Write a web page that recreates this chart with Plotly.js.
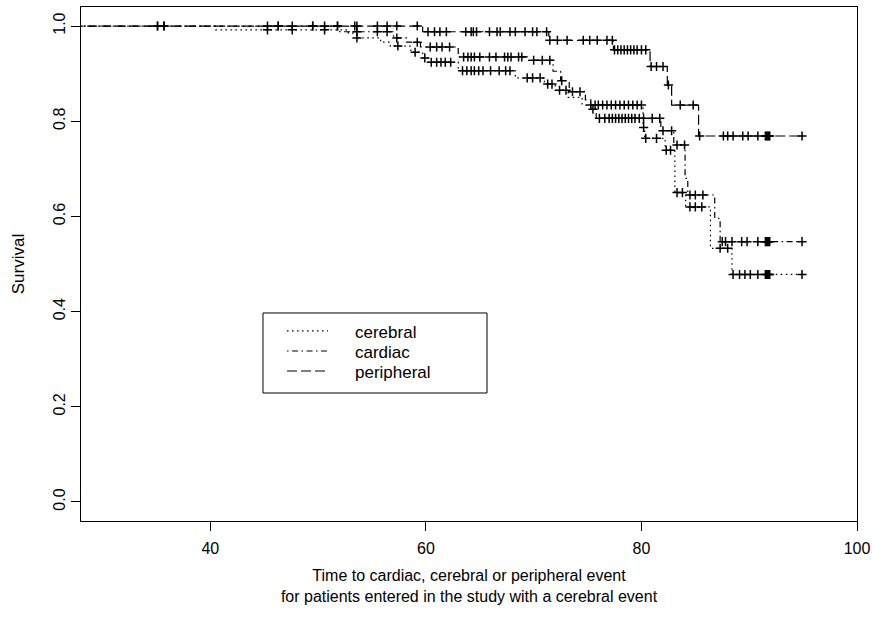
<!DOCTYPE html>
<html>
<head>
<meta charset="utf-8">
<script src="https://cdn.plot.ly/plotly-3.0.1.min.js"></script>
<style>html,body{margin:0;padding:0;background:#fff;}#chart{width:872px;height:621px;}</style>
</head>
<body>
<div id="chart"></div>
<script>
// ---- data (Kaplan-Meier step curves + censor times) ----
const groupNames = ["cerebral", "cardiac", "peripheral"];

const cerebralTime = [0, 40.5, 52.8, 53.6, 55.8, 56.7, 58.6, 59.7, 60.2, 63.0, 68.3, 71.0, 72.0, 73.2, 74.5, 80.15, 80.3, 82.2, 83.1, 84.1, 86.4, 88.4];
const cerebralSurv = [1.0, 0.992, 0.985, 0.975, 0.966, 0.958, 0.945, 0.933, 0.924, 0.906, 0.891, 0.878, 0.865, 0.85, 0.834, 0.787, 0.764, 0.739, 0.65, 0.62, 0.533, 0.478];
const cerebralCensor = [35.1, 45.3, 47.6, 50.6, 53.6, 57.4, 59.0, 59.9, 60.5, 61.0, 61.4, 61.8, 62.3, 63.4, 63.8, 64.2, 64.5, 64.9, 65.3, 66.0, 66.8, 67.4, 67.8, 69.4, 69.9, 70.6, 71.3, 71.7, 72.4, 73.0, 75.3, 75.7, 76.0, 76.4, 76.8, 77.2, 77.6, 78.0, 78.4, 78.8, 79.2, 79.6, 80.0, 80.2, 80.4, 81.4, 82.3, 82.7, 83.3, 83.8, 84.5, 85.0, 85.6, 87.3, 88.0, 88.5, 89.1, 89.6, 90.1, 90.8, 91.5, 91.6, 91.7, 91.8, 91.9, 94.9];

const cardiacTime = [0, 52.0, 57.0, 58.2, 59.5, 63.0, 69.4, 71.8, 72.5, 73.3, 74.8, 75.3, 75.8, 81.8, 83.0, 84.05, 84.3, 86.8, 87.3];
const cardiacSurv = [1.0, 0.988, 0.975, 0.966, 0.956, 0.935, 0.928, 0.905, 0.885, 0.862, 0.845, 0.825, 0.806, 0.78, 0.75, 0.68, 0.645, 0.596, 0.547];
const cardiacCensor = [35.7, 46.3, 49.5, 51.8, 53.6, 55.5, 56.4, 57.3, 59.2, 60.4, 61.0, 61.5, 62.2, 63.5, 63.9, 64.2, 64.5, 65.0, 65.9, 66.5, 67.3, 67.6, 67.9, 68.6, 68.9, 70.0, 70.8, 71.5, 72.6, 73.6, 74.3, 75.5, 76.1, 76.6, 77.0, 77.3, 77.6, 77.9, 78.2, 78.5, 78.8, 79.1, 79.4, 79.8, 80.2, 81.0, 81.7, 82.0, 82.8, 83.3, 84.0, 84.5, 85.0, 85.7, 87.5, 87.8, 88.4, 89.3, 89.8, 90.8, 91.5, 91.6, 91.7, 91.8, 91.9, 94.9];

const peripheralTime = [0, 59.7, 71.4, 77.4, 80.8, 82.4, 82.8, 85.3];
const peripheralSurv = [1.0, 0.988, 0.97, 0.95, 0.915, 0.876, 0.834, 0.769];
const peripheralCensor = [35.1, 35.7, 45.3, 46.3, 47.6, 49.5, 50.6, 51.8, 53.4, 53.6, 55.5, 56.4, 57.3, 59.2, 60.2, 60.8, 61.3, 61.9, 63.7, 64.2, 64.4, 64.7, 65.9, 66.6, 66.9, 67.8, 68.3, 69.2, 69.9, 70.3, 71.2, 71.5, 72.2, 73.1, 74.6, 75.2, 75.9, 76.8, 77.3, 77.5, 77.8, 78.1, 78.4, 78.7, 79.0, 79.3, 79.6, 80.0, 80.4, 80.9, 81.4, 82.0, 82.5, 83.6, 84.8, 85.4, 87.6, 88.0, 88.5, 89.4, 89.9, 90.8, 91.5, 91.6, 91.7, 91.8, 91.9, 94.9];

const xTicks = [40, 60, 80, 100];
const yTicks = [0, 0.2, 0.4, 0.6, 0.8, 1.0];
const yTickText = ["0.0", "0.2", "0.4", "0.6", "0.8", "1.0"];

// ---- helpers ----
function survAt(times, surv, t) {
  let s = surv[0];
  for (let i = 0; i < times.length; i++) { if (times[i] <= t) s = surv[i]; }
  return s;
}

const groups = [
  {name: groupNames[0], time: cerebralTime, surv: cerebralSurv, cens: cerebralCensor, dash: "1.5px,3.5px"},
  {name: groupNames[1], time: cardiacTime, surv: cardiacSurv, cens: cardiacCensor, dash: "1.5px,3.5px,6px,3.5px"},
  {name: groupNames[2], time: peripheralTime, surv: peripheralSurv, cens: peripheralCensor, dash: "10px,4px"}
];

const FONT = "Liberation Sans, Arial, Helvetica, sans-serif";
const traces = [];
groups.forEach(g => {
  const last = g.cens[g.cens.length - 1];
  const xs = g.time.slice();
  const ys = g.surv.slice();
  xs.push(last); ys.push(g.surv[g.surv.length - 1]);
  traces.push({
    x: xs, y: ys, type: "scatter", mode: "lines", name: g.name, showlegend: false,
    line: {shape: "hv", color: "#000", width: 1.2, dash: g.dash},
    hoverinfo: "skip"
  });
});
groups.forEach(g => {
  traces.push({
    x: g.cens, y: g.cens.map(t => survAt(g.time, g.surv, t)),
    type: "scatter", mode: "markers", showlegend: false,
    marker: {symbol: "cross-thin", size: 6.5, color: "#000", line: {color: "#000", width: 1.5}},
    hoverinfo: "skip"
  });
});

// legend drawn as a boxed key (positions in paper fractions)
const legendRowsY = [0.3697, 0.3307, 0.2918];
const shapes = [{
  type: "rect", xref: "paper", yref: "paper",
  x0: 0.2345, x1: 0.5232, y0: 0.249, y1: 0.4047,
  line: {color: "#000", width: 1}, fillcolor: "rgba(0,0,0,0)"
}];
const annotations = [];
groups.forEach((g, i) => {
  shapes.push({type: "line", xref: "paper", yref: "paper", x0: 0.2655, x1: 0.3183,
    y0: legendRowsY[i], y1: legendRowsY[i], line: {color: "#000", width: 1.2, dash: g.dash}});
  annotations.push({xref: "paper", yref: "paper", x: 0.3505, y: legendRowsY[i] - 0.002,
    xanchor: "left", yanchor: "middle", showarrow: false, text: g.name,
    font: {size: 17, family: FONT, color: "#000"}});
});

const layout = {
  width: 872, height: 621,
  margin: {l: 81, r: 15, t: 7, b: 100},
  paper_bgcolor: "#fff", plot_bgcolor: "#fff",
  font: {family: FONT, size: 16, color: "#000"},
  showlegend: false,
  xaxis: {
    range: [28, 100], tickvals: xTicks, ticks: "outside", ticklen: 9, tickwidth: 1, tickcolor: "#000",
    ticklabelstandoff: 4,
    showline: true, mirror: true, linecolor: "#000", linewidth: 1, showgrid: false, zeroline: false,
    tickfont: {size: 16},
    title: {text: "Time to cardiac, cerebral or peripheral event<br>for patients entered in the study with a cerebral event", font: {size: 16}, standoff: 13}
  },
  yaxis: {
    range: [-0.04, 1.04], tickvals: yTicks, ticktext: yTickText, ticks: "outside", ticklen: 9, tickwidth: 1, tickcolor: "#000",
    tickangle: -90,
    showline: true, mirror: true, linecolor: "#000", linewidth: 1, showgrid: false, zeroline: false,
    tickfont: {size: 16},
    title: {text: "Survival", font: {size: 17}, standoff: 21}
  },
  shapes: shapes,
  annotations: annotations
};

Plotly.newPlot("chart", traces, layout, {staticPlot: true, displayModeBar: false});
</script>
</body>
</html>
